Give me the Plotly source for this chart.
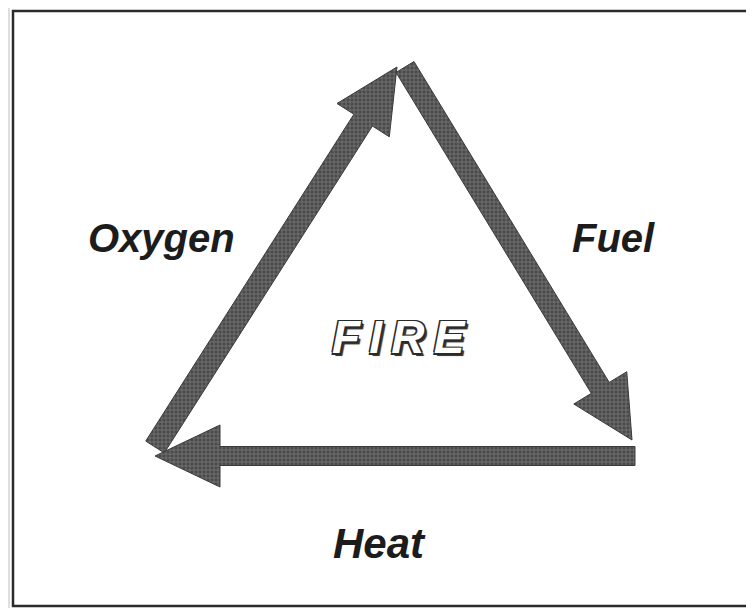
import numpy as np
import plotly.graph_objects as go

# ---- diagram data (pixel-like diagram coordinates, y grows downward) ----
arrow_names = ["Oxygen", "Fuel", "Heat"]
arrow_tails = [(155, 447), (405, 67), (635, 456)]
arrow_tips = [(397, 67), (632, 440), (155, 456)]
shaft_half = [11, 10.5, 9.5]
head_half = [31, 31, 31]
head_len = [63, 61, 65]

label_texts = ["Oxygen", "Fuel", "Heat"]
label_x = [161, 613, 379]
label_y = [238, 238, 543]
label_size = [40, 40, 42]

center_text = "F\u2009I\u2009R\u2009E"
center_xy = (399, 337)

frame_x = [13, 765]
frame_y = [11, 606]

# page offset of the plot inside the html body (default body margin)
PAGE_OFF = 8
W, H = 754, 616


def arrow_polygon(tail, tip, sh, hh, hl):
    t = np.array(tail, float)
    p = np.array(tip, float)
    d = p - t
    u = d / np.linalg.norm(d)
    n = np.array([-u[1], u[0]])
    base = p - u * hl
    pts = [t + n * sh, base + n * sh, base + n * hh, p,
           base - n * hh, base - n * sh, t - n * sh, t + n * sh]
    xs = [q[0] for q in pts]
    ys = [q[1] for q in pts]
    return xs, ys


fig = go.Figure()

# frame: open on the right (the scan is cropped there)
fig.add_trace(go.Scatter(
    x=[frame_x[1], frame_x[0] - 4, frame_x[0] - 4, frame_x[1]],
    y=[frame_y[0] - 5, frame_y[0] - 5, frame_y[1] + 3, frame_y[1] + 3],
    mode="lines", line=dict(color="#bdbdbd", width=1),
    hoverinfo="skip", showlegend=False))
fig.add_trace(go.Scatter(
    x=[frame_x[1], frame_x[0], frame_x[0], frame_x[1]],
    y=[frame_y[0], frame_y[0], frame_y[1], frame_y[1]],
    mode="lines", line=dict(color="#2b2b2b", width=2.5),
    hoverinfo="skip", showlegend=False))

for name, tl, tp, sh, hh, hl in zip(arrow_names, arrow_tails, arrow_tips,
                                    shaft_half, head_half, head_len):
    xs, ys = arrow_polygon(tl, tp, sh, hh, hl)
    fig.add_trace(go.Scatter(
        x=xs, y=ys, mode="lines", fill="toself",
        fillcolor="#575757",
        fillpattern=dict(shape="+", fgcolor="#b8b8b8", bgcolor="#4a4a4a",
                         size=4, solidity=0.3),
        line=dict(color="#3a3a3a", width=1),
        name=name, hoverinfo="skip", showlegend=False))

for txt, x, y, s in zip(label_texts, label_x, label_y, label_size):
    fig.add_annotation(
        x=x, y=y, text=txt, showarrow=False, xanchor="center", yanchor="middle",
        font=dict(family="Liberation Sans, Arial, sans-serif", size=s,
                  color="#1c1c1c", weight="bold", style="italic"))

fig.add_annotation(
    x=center_xy[0], y=center_xy[1], text=center_text, showarrow=False,
    xanchor="center", yanchor="middle",
    font=dict(family="Liberation Sans, Arial, sans-serif", size=46,
              color="#ffffff", weight="bold", style="italic",
              shadow="-1.5px -1.5px 0 #2a2a2a, 1.5px -1.5px 0 #2a2a2a, "
                     "-1.5px 1.5px 0 #2a2a2a, 1.5px 1.5px 0 #2a2a2a, "
                     "2.5px 2.5px 0 #3a3a3a, 3px 3px 1px #666"))

fig.update_layout(
    width=W - 2 * PAGE_OFF, height=H - 2 * PAGE_OFF,
    margin=dict(l=0, r=0, t=0, b=0),
    paper_bgcolor="white", plot_bgcolor="white",
    xaxis=dict(range=[PAGE_OFF, W - PAGE_OFF], visible=False, fixedrange=True),
    yaxis=dict(range=[H - PAGE_OFF, PAGE_OFF], visible=False, fixedrange=True),
    showlegend=False,
)

fig.write_html("out.html")
